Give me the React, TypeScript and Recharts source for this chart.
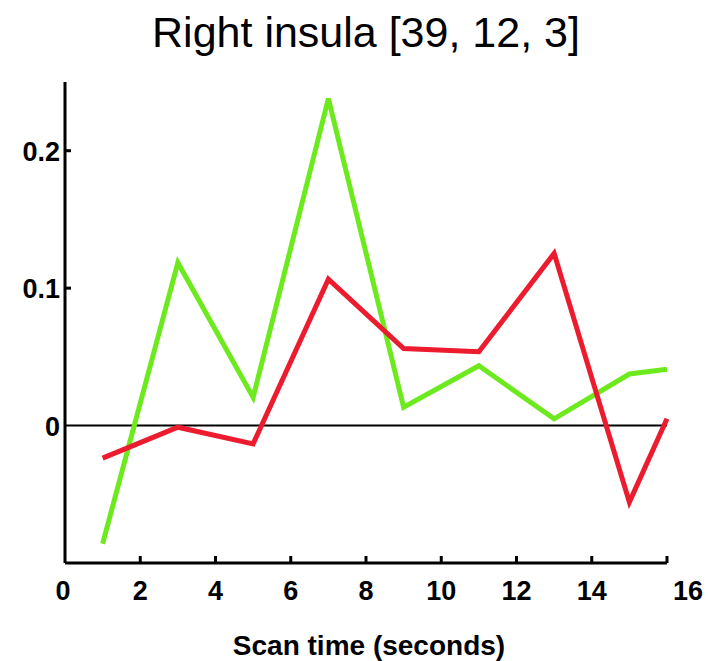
import React from "react";
import { LineChart, Line, XAxis, YAxis, ReferenceLine } from "recharts";

const times = [1, 3, 5, 7, 9, 11, 13, 15, 16];
const greenSeries = [-0.086, 0.1185, 0.0205, 0.238, 0.0133, 0.0435, 0.0049, 0.0375, 0.041];
const redSeries = [-0.0237, -0.0012, -0.0133, 0.1065, 0.0561, 0.0537, 0.1253, -0.0557, 0.0049];
const xTicks = [0, 2, 4, 6, 8, 10, 12, 14, 16];
const yTicks = [0, 0.1, 0.2];
const title = "Right insula [39, 12, 3]";
const xLabel = "Scan time (seconds)";

const data = times.map((t, i) => ({ t, green: greenSeries[i], red: redSeries[i] }));

const FONT = "'Liberation Sans', Arial, Helvetica, sans-serif";

const XTick = (props: any) => {
  const { x, y, payload } = props;
  const v = payload.value;
  const labelX = v === 16 ? x + 21 : v === 0 ? x - 2 : x;
  return (
    <g>
      {v !== 0 && <line x1={x} y1={y} x2={x} y2={y - 7} stroke="#000" strokeWidth={3} />}
      <text x={labelX} y={y + 37} textAnchor="middle" fontFamily={FONT} fontWeight="bold" fontSize={27} fill="#000">
        {String(v)}
      </text>
    </g>
  );
};

const YTick = (props: any) => {
  const { x, y, payload } = props;
  const v = payload.value;
  return (
    <g>
      {v !== 0 && <line x1={x} y1={y} x2={x + 6} y2={y} stroke="#000" strokeWidth={3} />}
      <text x={x - 5} y={y + 10} textAnchor="end" fontFamily={FONT} fontWeight="bold" fontSize={27} fill="#000">
        {v === 0 ? "0" : v.toFixed(1)}
      </text>
    </g>
  );
};

export default function App() {
  return (
    <div style={{ position: "absolute", left: 0, top: 0, width: 708, height: 661, background: "#fff" }}>
      <div
        style={{
          position: "absolute",
          left: 0,
          top: 10.5,
          width: 732,
          textAlign: "center",
          fontFamily: FONT,
          fontSize: 43,
          lineHeight: "43px",
          color: "#000",
        }}
      >
        {title}
      </div>
      <LineChart width={708} height={661} data={data} margin={{ top: 82, right: 41, bottom: 0, left: 0 }}>
        <XAxis
          type="number"
          dataKey="t"
          domain={[0, 16]}
          ticks={xTicks}
          height={98}
          tickSize={0}
          tickMargin={0}
          tickLine={false}
          axisLine={{ stroke: "#000", strokeWidth: 3 }}
          tick={<XTick />}
          interval={0}
        />
        <YAxis
          type="number"
          domain={[-0.1, 0.25]}
          ticks={yTicks}
          width={65}
          tickSize={0}
          tickMargin={0}
          tickLine={false}
          axisLine={{ stroke: "#000", strokeWidth: 3 }}
          tick={<YTick />}
          interval={0}
        />
        <ReferenceLine y={0} stroke="#000" strokeWidth={2} />
        <Line
          type="linear"
          dataKey="green"
          stroke="#6CEA1E"
          strokeWidth={5}
          dot={false}
          isAnimationActive={false}
          strokeLinejoin="miter"
        />
        <Line
          type="linear"
          dataKey="red"
          stroke="#EC1B2D"
          strokeWidth={5}
          dot={false}
          isAnimationActive={false}
          strokeLinejoin="miter"
        />
      </LineChart>
      <div
        style={{
          position: "absolute",
          left: 0,
          top: 632,
          width: 738,
          textAlign: "center",
          fontFamily: FONT,
          fontWeight: "bold",
          fontSize: 28,
          lineHeight: "28px",
          color: "#000",
        }}
      >
        {xLabel}
      </div>
    </div>
  );
}
